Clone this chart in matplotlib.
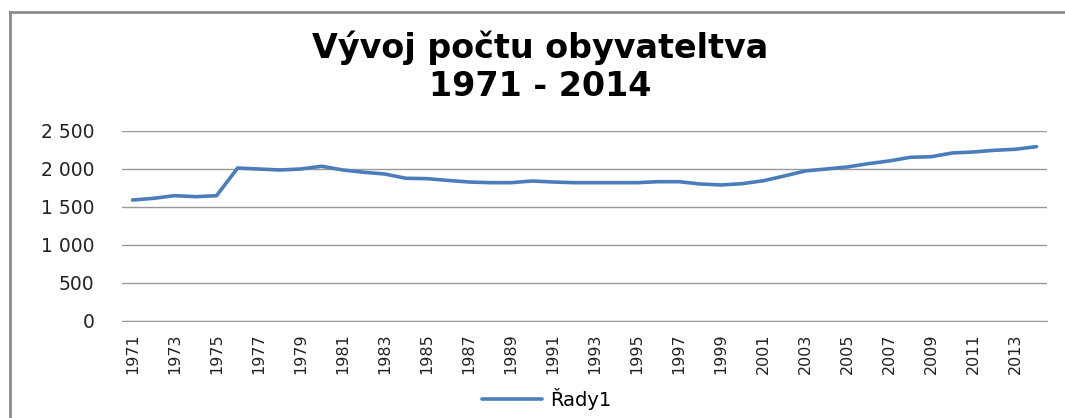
import matplotlib
matplotlib.use("Agg")
import matplotlib.pyplot as plt
from matplotlib.lines import Line2D
from matplotlib.ticker import FuncFormatter

# data
roky = list(range(1971, 2015))
obyvatele = [1592, 1614, 1649, 1636, 1649, 2013, 2000, 1987, 2000, 2036,
             1987, 1957, 1934, 1878, 1873, 1850, 1829, 1820, 1820, 1842,
             1829, 1820, 1820, 1820, 1820, 1833, 1833, 1803, 1790, 1807,
             1845, 1908, 1974, 2000, 2027, 2070, 2106, 2154, 2162, 2211,
             2224, 2246, 2260, 2294]
y_ticks = [0, 500, 1000, 1500, 2000, 2500]
nazev = "Vývoj počtu obyvateltva\n1971 - 2014"
serie = "Řady1"

modra = "#4a7ebb"
seda = "#999999"

fig = plt.figure(figsize=(10.65, 4.18), dpi=100)
ax = fig.add_axes([122/1065, 1-321/418, (1047-122)/1065, (321-131)/418])

x = list(range(len(roky)))
ax.plot(x, obyvatele, c=modra, lw=2.6, solid_capstyle='round', label=serie, zorder=3)

ax.set_xlim(-0.5, len(roky)-0.5)
ax.set_ylim(0, 2500)
ax.set_yticks(y_ticks)
ax.yaxis.set_major_formatter(FuncFormatter(lambda v, p: f"{int(v):,}".replace(",", " ")))
ax.grid(axis='y', color=seda, lw=1)
ax.set_axisbelow(True)

ax.set_xticks(x[::2])
ax.set_xticklabels([str(r) for r in roky[::2]], rotation=90)

for s in ['top', 'right', 'left']:
    ax.spines[s].set_visible(False)
ax.spines['bottom'].set_color(seda)
ax.tick_params(axis='y', length=0, pad=20, labelsize=13.5, labelcolor='#222222')
ax.tick_params(axis='x', length=0, pad=9, labelsize=11.5, labelcolor='#222222')

fig.text(0.507, 1-67/418, nazev, ha='center', va='center', fontsize=24,
         fontweight='bold', linespacing=1.2)

fig.legend(loc='center', bbox_to_anchor=(0.513, 1-399/418), frameon=False,
           fontsize=14, handlelength=3.1, handletextpad=0.4)

# ramecek grafu
fig.add_artist(Line2D([10/1065, 10/1065], [0, 1-12/418], transform=fig.transFigure, color='#8c8c8c', lw=2))
fig.add_artist(Line2D([10/1065, 1], [1-12/418, 1-12/418], transform=fig.transFigure, color='#8c8c8c', lw=2))

plt.savefig('out.png', dpi=100)
